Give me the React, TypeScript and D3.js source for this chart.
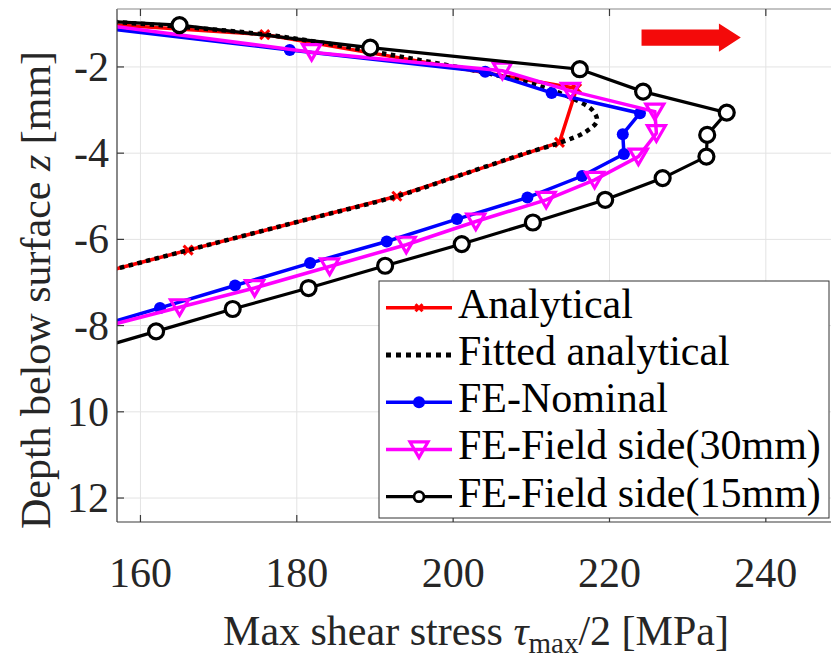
import React from "react";
import * as d3 from "d3";

// ---- data ----
const xTicks = [160, 180, 200, 220, 240];
const yTicks = [2, 4, 6, 8, 10, 12];
const yTickLabels = ["-2", "-4", "-6", "-8", "10", "12"];

const analyticalDepth = [0, 1.25, 2.5, 3.75, 5.0, 6.25, 7.5];
const analyticalStress = [70, 175.9, 215.8, 213.6, 192.8, 166.1, 139.5];

const fittedDepth = [0.9, 1.25, 1.75, 2.25, 2.5, 2.75, 3.0, 3.25, 3.5, 3.75, 4.0, 4.5, 5.0, 5.5, 6.0, 6.5, 7.0];
const fittedStress = [152, 176, 193, 207, 212, 215.5, 217.8, 218.4, 217, 213.8, 209.3, 201.1, 192.8, 182.1, 171.4, 160.8, 150.2];

const nominalDepth = [1.1, 1.606, 2.109, 2.603, 3.073, 3.56, 4.02, 4.53, 5.03, 5.53, 6.05, 6.55, 7.07, 7.59, 8.09];
const nominalStress = [155.2, 179.1, 204.1, 212.6, 223.9, 221.7, 221.85, 216.5, 209.5, 200.5, 191.5, 181.7, 172.1, 162.5, 153.2];

const field30Depth = [0.9, 1.657, 2.088, 2.556, 3.036, 3.537, 4.079, 4.619, 5.082, 5.585, 6.125, 6.628, 7.129, 7.574, 8.07];
const field30Stress = [150, 181.9, 206.3, 215.0, 225.8, 226.0, 223.7, 218.1, 211.9, 202.9, 194.0, 184.2, 174.6, 165.0, 154.4];

const field15Depth = [0.55, 1.03, 1.553, 2.053, 2.572, 3.059, 3.576, 4.079, 4.579, 5.082, 5.608, 6.109, 6.612, 7.129, 7.615, 8.134, 8.63];
const field15Stress = [115, 165.0, 189.4, 216.2, 224.3, 235.0, 232.5, 232.4, 226.8, 219.45, 210.2, 201.1, 191.3, 181.5, 171.8, 162.0, 152.6];

const seriesNames = [
  "Analytical",
  "Fitted analytical",
  "FE-Nominal",
  "FE-Field side(30mm)",
  "FE-Field side(15mm)",
];

// arrow annotation (data units)
const arrowTail = 224.1;
const arrowHeadBase = 234.0;
const arrowTip = 236.8;
const arrowDepth = 1.32;
const arrowShaftHalf = 0.19;
const arrowHeadHalf = 0.33;

// ---- layout ----
const W = 831;
const H = 659;
const plot = { left: 117, right: 844, top: 9, bottom: 522 };
const xDomain = [157, 250];
const yDomain = [0.656, 12.556];
const FONT = "Liberation Serif";
const FS = 42;

type Pt = [number, number];
const zip = (d: number[], s: number[]): Pt[] => d.map((v, i) => [s[i], v]);

function T(props: any) {
  const { children, style, ...rest } = props;
  return (
    <text fontFamily={FONT} {...rest} style={{ fontFamily: FONT, ...(style || {}) }}>
      {children}
    </text>
  );
}

export default function App() {
  const x = d3.scaleLinear().domain(xDomain).range([plot.left, plot.right]);
  const y = d3.scaleLinear().domain(yDomain).range([plot.top, plot.bottom]);

  const line = d3
    .line<Pt>()
    .x((p) => x(p[0]))
    .y((p) => y(p[1]));
  const smooth = d3
    .line<Pt>()
    .x((p) => x(p[0]))
    .y((p) => y(p[1]))
    .curve(d3.curveCatmullRom);

  const analytical = zip(analyticalDepth, analyticalStress);
  const fitted = zip(fittedDepth, fittedStress);
  const nominal = zip(nominalDepth, nominalStress);
  const field30 = zip(field30Depth, field30Stress);
  const field15 = zip(field15Depth, field15Stress);

  const xMark = (cx: number, cy: number, k: string, s = 4.5) => (
    <g key={k} stroke="#ff0000" strokeWidth={3}>
      <line x1={cx - s} y1={cy - s} x2={cx + s} y2={cy + s} />
      <line x1={cx - s} y1={cy + s} x2={cx + s} y2={cy - s} />
    </g>
  );
  const tri = (cx: number, cy: number, k: string) => (
    <path
      key={k}
      d={`M${cx - 9},${cy - 7.5}L${cx + 9},${cy - 7.5}L${cx},${cy + 8}Z`}
      fill="none"
      stroke="#ff00ff"
      strokeWidth={3.2}
      strokeLinejoin="miter"
    />
  );
  const dot = (cx: number, cy: number, k: string) => (
    <circle key={k} cx={cx} cy={cy} r={6} fill="#0000ff" />
  );
  const circ = (cx: number, cy: number, k: string) => (
    <circle key={k} cx={cx} cy={cy} r={7.5} fill="#fff" stroke="#000" strokeWidth={3.2} />
  );

  const arrowPath = [
    [arrowTail, arrowDepth - arrowShaftHalf],
    [arrowHeadBase, arrowDepth - arrowShaftHalf],
    [arrowHeadBase, arrowDepth - arrowHeadHalf],
    [arrowTip, arrowDepth],
    [arrowHeadBase, arrowDepth + arrowHeadHalf],
    [arrowHeadBase, arrowDepth + arrowShaftHalf],
    [arrowTail, arrowDepth + arrowShaftHalf],
  ]
    .map((p, i) => `${i ? "L" : "M"}${x(p[0])},${y(p[1])}`)
    .join("") + "Z";

  const legendX = 379;
  const legendY = 281;
  const legendW = 450;
  const legendH = 237;
  const rowY = (i: number) => 307.7 + i * 47.25;
  const sampleX1 = 386;
  const sampleX2 = 452;
  const sampleMid = 419;

  return (
    <svg
      width={W}
      height={H}
      fontFamily={FONT}
      style={{ position: "absolute", left: 0, top: 0, background: "#fff" }}
    >
      <style>{`text, tspan { font-family: "Liberation Serif", "Times New Roman", serif; }`}</style>
      <defs>
        <clipPath id="plotClip">
          <rect x={plot.left} y={plot.top} width={plot.right - plot.left} height={plot.bottom - plot.top} />
        </clipPath>
      </defs>
      <rect x={0} y={0} width={W} height={H} fill="#fff" />

      {/* grid */}
      <g stroke="#e3e3e3" strokeWidth={1}>
        {xTicks.map((t) => (
          <line key={"gx" + t} x1={x(t)} x2={x(t)} y1={plot.top} y2={plot.bottom} />
        ))}
        {yTicks.map((t) => (
          <line key={"gy" + t} x1={plot.left} x2={plot.right} y1={y(t)} y2={y(t)} />
        ))}
      </g>

      {/* series */}
      <g clipPath="url(#plotClip)">
        <path d={line(analytical) || ""} fill="none" stroke="#ff0000" strokeWidth={3.5} />
        {analytical.map((p, i) => xMark(x(p[0]), y(p[1]), "a" + i))}

        <path
          d={smooth(fitted) || ""}
          fill="none"
          stroke="#000"
          strokeWidth={4.5}
          strokeDasharray="4.5 4.5"
        />

        <path d={line(nominal) || ""} fill="none" stroke="#0000ff" strokeWidth={3.5} />
        {nominal.map((p, i) => dot(x(p[0]), y(p[1]), "n" + i))}

        <path d={line(field30) || ""} fill="none" stroke="#ff00ff" strokeWidth={3.5} />
        {field30.map((p, i) => tri(x(p[0]), y(p[1]), "m" + i))}

        <path d={line(field15) || ""} fill="none" stroke="#000" strokeWidth={3.2} />
        {field15.map((p, i) => circ(x(p[0]), y(p[1]), "b" + i))}

        <path d={arrowPath} fill="#f40a0a" />
      </g>

      {/* axes box */}
      <g stroke="#3a3a3a" strokeWidth={1.2} fill="none">
        <line x1={plot.left} x2={plot.left} y1={plot.top} y2={plot.bottom} />
        <line x1={plot.left} x2={plot.right} y1={plot.bottom} y2={plot.bottom} />
        <line x1={plot.left} x2={plot.right} y1={plot.top} y2={plot.top} stroke="#888" />
        {xTicks.map((t) => (
          <g key={"tx" + t}>
            <line x1={x(t)} x2={x(t)} y1={plot.bottom} y2={plot.bottom - 7} />
            <line x1={x(t)} x2={x(t)} y1={plot.top} y2={plot.top + 7} />
          </g>
        ))}
        {yTicks.map((t) => (
          <line key={"ty" + t} x1={plot.left} x2={plot.left + 7} y1={y(t)} y2={y(t)} />
        ))}
      </g>

      {/* tick labels */}
      {xTicks.map((t) => (
        <T key={"lx" + t} x={x(t)} y={587} textAnchor="middle" fontSize={FS} fill="#262626">
          {t}
        </T>
      ))}
      {yTicks.map((t, i) => (
        <T key={"ly" + t} x={109} y={y(t) + 14} textAnchor="end" fontSize={FS} fill="#262626">
          {yTickLabels[i]}
        </T>
      ))}

      {/* axis labels */}
      <T x={476} y={645} textAnchor="middle" fontSize={FS} fill="#262626">
        Max shear stress{" "}
        <tspan fontStyle="italic">τ</tspan>
        <tspan dy={8} fontSize={29}>max</tspan>
        <tspan dy={-8}>/2 [MPa]</tspan>
      </T>
      <T transform="translate(50,290) rotate(-90)" textAnchor="middle" fontSize={FS} fill="#262626">
        Depth below surface <tspan fontStyle="italic">z</tspan> [mm]
      </T>

      {/* legend */}
      <rect x={legendX} y={legendY} width={legendW} height={legendH} fill="#fff" stroke="#333" strokeWidth={1} />
      <g>
        <line x1={sampleX1} x2={sampleX2} y1={rowY(0)} y2={rowY(0)} stroke="#ff0000" strokeWidth={3.5} />
        {xMark(sampleMid, rowY(0), "lx0", 3.5)}
        <line
          x1={sampleX1}
          x2={sampleX2}
          y1={rowY(1)}
          y2={rowY(1)}
          stroke="#000"
          strokeWidth={5}
          strokeDasharray="5 5"
        />
        <line x1={sampleX1} x2={sampleX2} y1={rowY(2)} y2={rowY(2)} stroke="#0000ff" strokeWidth={3.5} />
        {dot(sampleMid, rowY(2), "lx2")}
        <line x1={sampleX1} x2={sampleX2} y1={rowY(3)} y2={rowY(3)} stroke="#ff00ff" strokeWidth={3.5} />
        {tri(sampleMid, rowY(3), "lx3")}
        <line x1={sampleX1} x2={sampleX2} y1={rowY(4)} y2={rowY(4)} stroke="#000" strokeWidth={3.2} />
        <circle cx={sampleMid} cy={rowY(4)} r={5} fill="#fff" stroke="#000" strokeWidth={2.8} />
        {seriesNames.map((n, i) => (
          <T key={"ln" + i} x={458} y={rowY(i) + 10} fontSize={FS} fill="#000">
            {n}
          </T>
        ))}
      </g>
    </svg>
  );
}
